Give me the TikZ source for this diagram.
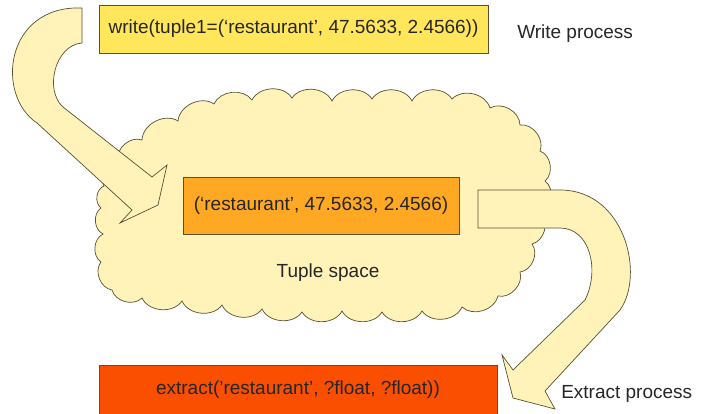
\documentclass[tikz,border=0pt]{standalone}
\usepackage{fontspec}
\setmainfont{Liberation Sans}

\definecolor{paleyellow}{RGB}{255,243,186}
\definecolor{writeyellow}{RGB}{255,230,90}
\definecolor{tupleorange}{RGB}{255,168,35}
\definecolor{extractred}{RGB}{250,78,0}
\definecolor{edgegray}{RGB}{90,80,50}

\begin{document}
\begin{tikzpicture}[
    x=0.025cm, y=-0.025cm,
    box/.style={rectangle, draw=edgegray, line width=0.6pt, inner sep=0pt, text=black!85, font=\fontsize{13.5}{16}\selectfont},
    txt/.style={inner sep=0pt, text=black!85, font=\fontsize{13.5}{16}\selectfont},
    bigarrow/.style={fill=paleyellow, draw=edgegray, line width=0.5pt, line join=miter},
    puffy/.style={fill=paleyellow, draw=edgegray, line width=0.5pt}
]
  \useasboundingbox (0,0) rectangle (707,413);

  % tuple space
  \draw[puffy] (104,186) foreach \x/\y in {118/160,142/140,178/121,214/104,252/100,292/98,332/101,
      372/99,412/101,452/99,490/108,520/125,540/151,545/181,541/213,532/244,520/272,
      498/296,462/307,422/311,382/312,342/311,302/312,262/309,222/305,182/301,142/298,
      112/290,101/262,103/234,101/208,104/186} { to[bend left=60] (\x,\y) } -- cycle;

  % write arrow
  \draw[bigarrow] (82,43) .. controls (55,45) and (44,90) .. (63,107) -- (152,177) -- (167,165)
    -- (158,205) -- (120,223) -- (132,210) -- (37,123) .. controls (-5,95) and (5,5) .. (82,8) -- cycle;

  % extract arrow
  \draw[bigarrow] (478,190) -- (560,190) .. controls (625,190) and (645,275) .. (620,310) -- (545,391)
    -- (555,409) -- (513,398) -- (502,355) -- (513,370) -- (585,300) .. controls (600,270) and (590,228) .. (560,228)
    -- (478,228) -- cycle;

  % tuples
  \node[box, fill=writeyellow, minimum width=9.725cm, minimum height=1.2cm] (write) at (293.5,29)
    {write(tuple1=(‘restaurant’, 47.5633, 2.4566))};
  \node[box, fill=tupleorange, minimum width=6.9cm, minimum height=1.425cm] (tuple) at (321,205.5)
    {(‘restaurant’, 47.5633, 2.4566)};
  \node[box, fill=extractred, minimum width=9.95cm, minimum height=1.25cm] (extract) at (298,390)
    {extract(’restaurant’, ?float, ?float))};

  % labels
  \node[txt, anchor=west] (wlabel) at (517,34) {Write process};
  \node[txt] (slabel) at (328,273) {Tuple space};
  \node[txt, anchor=west] (elabel) at (561,394) {Extract process};
\end{tikzpicture}
\end{document}
